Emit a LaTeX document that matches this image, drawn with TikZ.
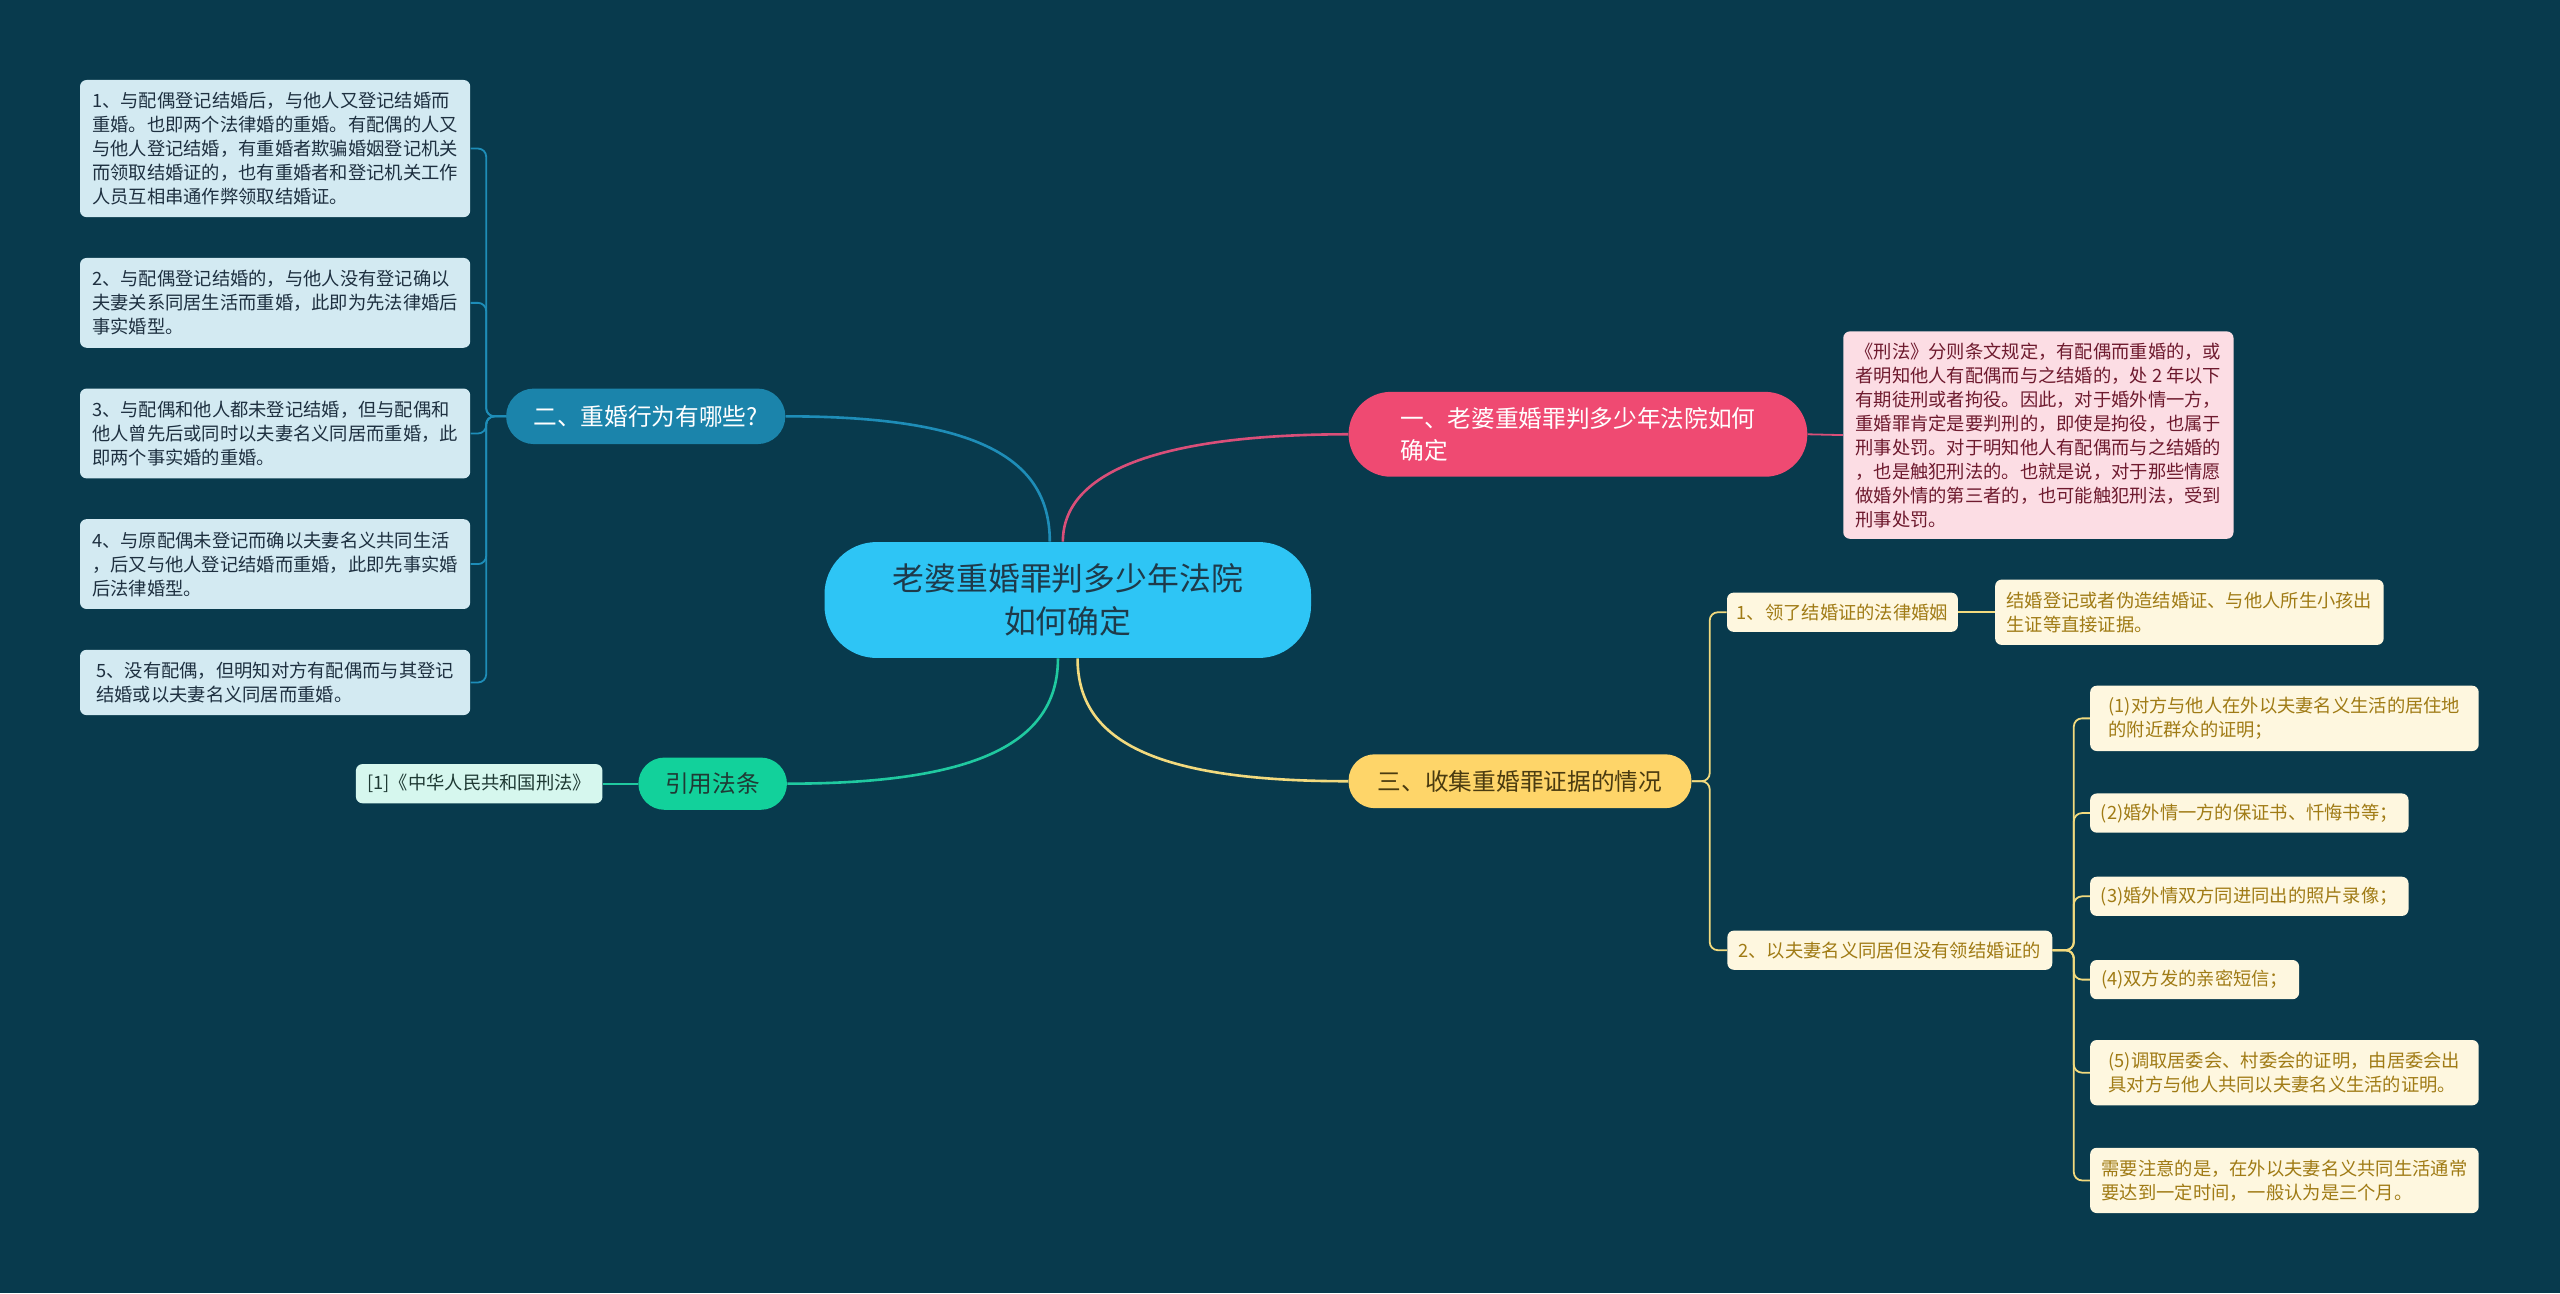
\documentclass[tikz,border=0pt]{standalone}
\usepackage{fontspec}
\newfontfamily\cjkfont{Noto Sans CJK SC}

\definecolor{MapBackground}{RGB}{8,58,77}
\definecolor{RootFill}{RGB}{46,197,245}
\definecolor{RootText}{RGB}{30,58,74}
\definecolor{BranchOneFill}{RGB}{239,74,114}
\definecolor{BranchOneLine}{RGB}{217,79,121}
\definecolor{BranchOneBox}{RGB}{252,221,228}
\definecolor{BranchOneText}{RGB}{110,26,46}
\definecolor{BranchTwoFill}{RGB}{27,132,171}
\definecolor{BranchTwoLine}{RGB}{30,141,184}
\definecolor{BranchTwoBox}{RGB}{211,234,242}
\definecolor{BranchTwoText}{RGB}{30,48,64}
\definecolor{LawFill}{RGB}{18,209,155}
\definecolor{LawLine}{RGB}{32,201,160}
\definecolor{LawBox}{RGB}{214,247,238}
\definecolor{LawText}{RGB}{31,58,52}
\definecolor{BranchThreeFill}{RGB}{254,213,105}
\definecolor{BranchThreeLine}{RGB}{242,218,126}
\definecolor{BranchThreeBox}{RGB}{254,247,223}
\definecolor{BranchThreeText}{RGB}{160,123,21}
\definecolor{BranchThreeDark}{RGB}{74,59,16}

\tikzset{
  smallbox/.style={rectangle, rounded corners=4pt, align=left, inner xsep=6pt, inner ysep=0pt,
    font=\cjkfont\fontsize{11.2}{14.7}\selectfont},
  pillnode/.style={rectangle, align=left, inner ysep=0pt,
    font=\cjkfont\fontsize{14.5}{20}\selectfont},
  leftbox/.style={smallbox, fill=BranchTwoBox, text=BranchTwoText, minimum width=239pt},
  yellowbox/.style={smallbox, fill=BranchThreeBox, text=BranchThreeText, minimum height=24pt},
  mainline/.style={line width=1.6pt},
  subline/.style={line width=1.1pt, rounded corners=5pt}
}

\begin{document}
\begin{tikzpicture}[x=1pt, y=-1pt]

\fill[MapBackground] (0,0) rectangle (1568,792);
\useasboundingbox (0,0) rectangle (1568,792);

%% Nodo central
\node[rectangle, rounded corners=32pt, fill=RootFill, text=RootText, align=center,
      minimum width=298pt, minimum height=71pt, inner ysep=0pt,
      font=\cjkfont\fontsize{19.5}{26}\selectfont] (root) at (654,367.5)
      {老婆重婚罪判多少年法院\\如何确定};

%% Rama uno
\node[pillnode, rounded corners=26pt, fill=BranchOneFill, text=white,
      minimum width=281pt, minimum height=52pt] (branchOne) at (966.5,266)
      {一、老婆重婚罪判多少年法院如何\\确定};
\node[smallbox, fill=BranchOneBox, text=BranchOneText, minimum width=239pt,
      minimum height=127pt] (lawText) at (1248.5,266.5)
      {《刑法》分则条文规定，有配偶而重婚的，或\\者明知他人有配偶而与之结婚的，处 2 年以下\\有期徒刑或者拘役。因此，对于婚外情一方，\\重婚罪肯定是要判刑的，即使是拘役，也属于\\刑事处罚。对于明知他人有配偶而与之结婚的\\，也是触犯刑法的。也就是说，对于那些情愿\\做婚外情的第三者的，也可能触犯刑法，受到\\刑事处罚。};

\draw[mainline, BranchOneLine] ([xshift=-3pt]root.north) .. controls +(0,-45) and +(-110,0) .. (branchOne.west);
\draw[subline, BranchOneLine] (branchOne.east) -- (lawText.west);

%% Rama dos
\node[pillnode, rounded corners=17pt, fill=BranchTwoFill, text=white,
      minimum width=171pt, minimum height=34pt] (branchTwo) at (395.5,255)
      {二、重婚行为有哪些?};

\node[leftbox, minimum height=84pt] (case1) at (168.5,91)
      {1、与配偶登记结婚后，与他人又登记结婚而\\重婚。也即两个法律婚的重婚。有配偶的人又\\与他人登记结婚，有重婚者欺骗婚姻登记机关\\而领取结婚证的，也有重婚者和登记机关工作\\人员互相串通作弊领取结婚证。};
\node[leftbox, minimum height=55pt] (case2) at (168.5,185.5)
      {2、与配偶登记结婚的，与他人没有登记确以\\夫妻关系同居生活而重婚，此即为先法律婚后\\事实婚型。};
\node[leftbox, minimum height=55pt] (case3) at (168.5,265.5)
      {3、与配偶和他人都未登记结婚，但与配偶和\\他人曾先后或同时以夫妻名义同居而重婚，此\\即两个事实婚的重婚。};
\node[leftbox, minimum height=55pt] (case4) at (168.5,345.5)
      {4、与原配偶未登记而确以夫妻名义共同生活\\，后又与他人登记结婚而重婚，此即先事实婚\\后法律婚型。};
\node[leftbox, minimum height=40pt] (case5) at (168.5,418)
      {5、没有配偶，但明知对方有配偶而与其登记\\结婚或以夫妻名义同居而重婚。};

\draw[mainline, BranchTwoLine] ([xshift=-11pt]root.north) .. controls +(0,-50) and +(120,0) .. (branchTwo.east);
\foreach \k in {1,...,5}
  \draw[subline, BranchTwoLine] (branchTwo.west) -- ++(-12,0) |- (case\k.east);

%% Referencias legales
\node[pillnode, rounded corners=16pt, fill=LawFill, text=LawText,
      minimum width=91pt, minimum height=32pt] (lawNode) at (436.5,480) {引用法条};
\node[smallbox, fill=LawBox, text=LawText, minimum width=151pt,
      minimum height=24pt] (lawRef) at (293.5,480) {[1]《中华人民共和国刑法》};

\draw[mainline, LawLine] ([xshift=-6pt]root.south) .. controls +(0,50) and +(120,0) .. (lawNode.east);
\draw[subline, LawLine] (lawNode.west) -- (lawRef.east);

%% Rama tres
\node[pillnode, rounded corners=16pt, fill=BranchThreeFill, text=BranchThreeDark,
      minimum width=210pt, minimum height=33pt] (branchThree) at (931,478.5)
      {三、收集重婚罪证据的情况};

\node[yellowbox, minimum width=141pt] (proofOne) at (1128.5,375) {1、领了结婚证的法律婚姻};
\node[yellowbox, minimum width=238pt, minimum height=40pt] (proofOneText) at (1341,375)
      {结婚登记或者伪造结婚证、与他人所生小孩出\\生证等直接证据。};
\node[yellowbox, minimum width=199pt] (proofTwo) at (1157.5,582) {2、以夫妻名义同居但没有领结婚证的};

\node[yellowbox, anchor=west, minimum width=238pt, minimum height=40pt] (item1) at (1280,440)
      {(1)对方与他人在外以夫妻名义生活的居住地\\的附近群众的证明；};
\node[yellowbox, anchor=west, minimum width=195pt] (item2) at (1280,498)
      {(2)婚外情一方的保证书、忏悔书等；};
\node[yellowbox, anchor=west, minimum width=195pt] (item3) at (1280,549)
      {(3)婚外情双方同进同出的照片录像；};
\node[yellowbox, anchor=west, minimum width=128pt] (item4) at (1280,600)
      {(4)双方发的亲密短信；};
\node[yellowbox, anchor=west, minimum width=238pt, minimum height=40pt] (item5) at (1280,657)
      {(5)调取居委会、村委会的证明，由居委会出\\具对方与他人共同以夫妻名义生活的证明。};
\node[yellowbox, anchor=west, minimum width=238pt, minimum height=40pt] (item6) at (1280,723)
      {需要注意的是，在外以夫妻名义共同生活通常\\要达到一定时间，一般认为是三个月。};

\draw[mainline, BranchThreeLine] ([xshift=6pt]root.south) .. controls +(0,50) and +(-120,0) .. (branchThree.west);
\draw[subline, BranchThreeLine] (branchThree.east) -- ++(11,0) |- (proofOne.west);
\draw[subline, BranchThreeLine] (branchThree.east) -- ++(11,0) |- (proofTwo.west);
\draw[subline, BranchThreeLine] (proofOne.east) -- (proofOneText.west);
\foreach \k in {1,...,6}
  \draw[subline, BranchThreeLine] (proofTwo.east) -- ++(13,0) |- (item\k.west);

\end{tikzpicture}
\end{document}
